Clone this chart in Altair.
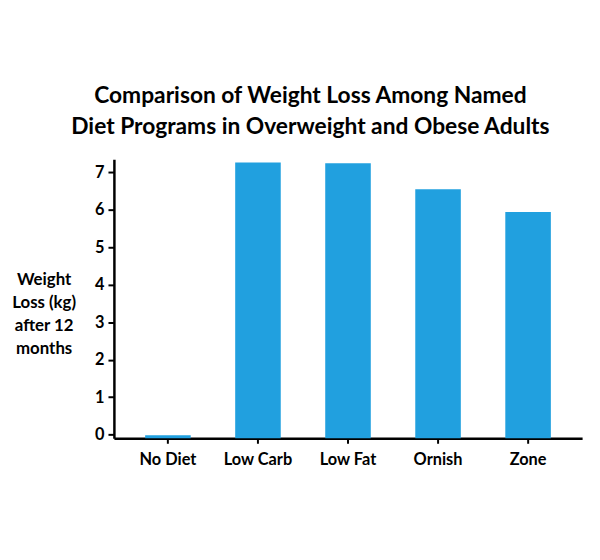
import altair as alt
import pandas as pd

diets = ["No Diet", "Low Carb", "Low Fat", "Ornish", "Zone"]
weight_loss = [-0.02, 7.26, 7.24, 6.55, 5.94]
y_ticks = [0, 1, 2, 3, 4, 5, 6, 7]
title_lines = ["Comparison of Weight Loss Among Named",
               "Diet Programs in Overweight and Obese Adults"]
y_title = ["Weight", "Loss (kg)", "after 12", "months"]

df = pd.DataFrame({"diet": diets, "loss": weight_loss})

FONT = "Lato"

chart = alt.Chart(df).mark_bar(color="#21a0df").encode(
    x=alt.X("diet:N", sort=diets,
            scale=alt.Scale(paddingInner=0.494, paddingOuter=0.347),
            axis=alt.Axis(title=None, labelAngle=0, domainColor="black",
                          domainWidth=2.5, tickColor="black", tickWidth=2,
                          tickSize=5, labelPadding=8, labelFont=FONT,
                          labelFontSize=16.5, labelFontWeight="bold",
                          labelColor="black")),
    y=alt.Y("loss:Q",
            scale=alt.Scale(domain=[-0.1, 7.35], nice=False, zero=False),
            axis=alt.Axis(values=y_ticks, grid=False, domainColor="black",
                          domainWidth=2.5, tickColor="black", tickWidth=2,
                          tickSize=6, labelPadding=4, labelFont=FONT,
                          labelFontSize=16.5, labelFontWeight="bold",
                          labelColor="black",
                          title=y_title, titleAngle=0, titleAlign="center",
                          titleBaseline="top", titleX=-71, titleY=114,
                          titleFont=FONT, titleFontSize=17,
                          titleFontWeight="bold", titleColor="black",
                          titleLineHeight=23)),
    y2=alt.datum(-0.1),
).properties(
    width=473,
    height=282,
    background="white",
    title=alt.TitleParams(text=title_lines, font=FONT, fontSize=23,
                          fontWeight="bold", color="black", anchor="middle",
                          dx=-38, offset=20, lineHeight=32),
    autosize=alt.AutoSizeParams(type="none"),
    padding={"left": 107, "top": 150, "right": 10, "bottom": 100},
).configure_view(strokeWidth=0)

chart.save("out.html", embed_options={"renderer": "svg", "actions": False})
